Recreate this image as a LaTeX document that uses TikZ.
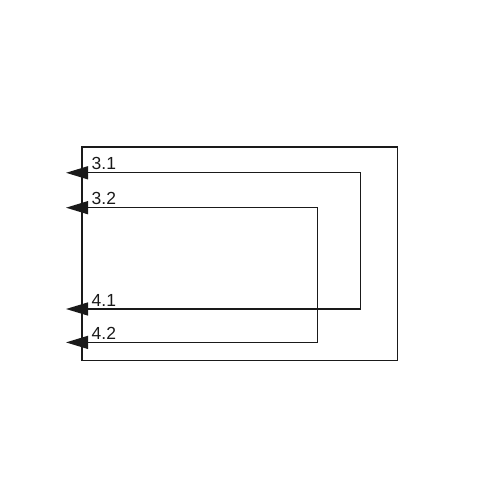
\documentclass[tikz,border=0pt]{standalone}
\usepackage{fontspec}
\setmainfont{Liberation Sans}
\usetikzlibrary{arrows.meta,positioning}
\definecolor{ink}{HTML}{1A1A1A}

\begin{document}
\begin{tikzpicture}[x=1pt,y=-1pt,>={Triangle[length=22pt,width=13pt]},
  frame/.style={draw=ink,line width=1.8pt},
  loopline/.style={draw=ink,line width=1.3pt,<->},
  lab/.style={font=\fontsize{17.5}{18}\selectfont,text=ink,anchor=base west,inner sep=0pt}]
\useasboundingbox (0,0) rectangle (502,502);
\draw[frame] (81.7,147) rectangle (397.5,360.5);
% two loops leaving and entering on the left
\foreach \n/\xr/\ya/\yb in {1/360.7/172.8/309,2/317.3/207.7/342.4}{
  \coordinate (in\n) at (66,\ya);
  \coordinate (out\n) at (66,\yb);
  \coordinate (ra\n) at (\xr,\ya);
  \coordinate (rb\n) at (\xr,\yb);
  \draw[loopline] (in\n) -- (ra\n) -- (rb\n) -- (out\n);
  \node[lab] (l3\n) at (91.5,\ya-3) {3.\n};
  \node[lab] (l4\n) at (91.5,\yb-2.5) {4.\n};}
\end{tikzpicture}
\end{document}
